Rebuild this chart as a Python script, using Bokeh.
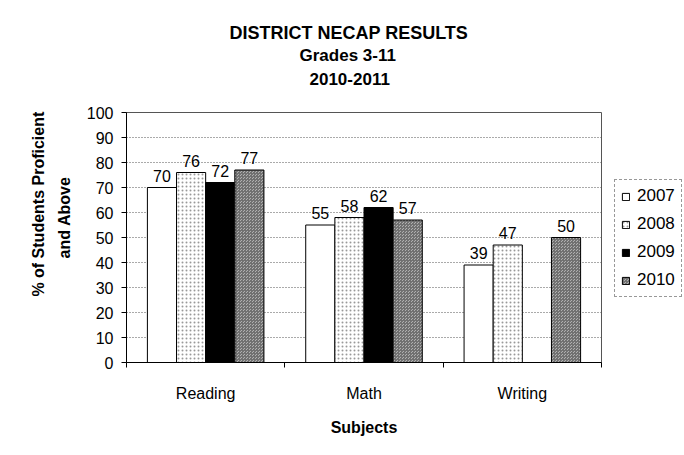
from bokeh.plotting import figure
from bokeh.models import (ColumnDataSource, FactorRange, Legend, LegendItem, Title,
                          LinearAxis, FixedTicker)
from bokeh.transform import dodge
from bokeh.core.properties import value
from bokeh.embed import file_html
from bokeh.resources import INLINE

# ---- data ----
subjects = ["Reading", "Math", "Writing"]
years = ["2007", "2008", "2009", "2010"]
scores_2007 = [70, 55, 39]
scores_2008 = [76, 58, 47]
scores_2009 = [72, 62, None]   # no Writing result for 2009
scores_2010 = [77, 57, 50]
y_ticks = [0, 10, 20, 30, 40, 50, 60, 70, 80, 90, 100]

series = [scores_2007, scores_2008, scores_2009, scores_2010]

FONT = "Liberation Sans"

p = figure(x_range=FactorRange(*subjects), y_range=(0, 100), x_axis_type=None,
           frame_width=475, frame_height=250, output_backend="svg", toolbar_location=None,
           min_border_left=126, min_border_right=67,
           min_border_top=112, min_border_bottom=77)
p.background_fill_color = "white"
p.border_fill_color = "white"
p.outline_line_color = "#555555"
p.outline_line_width = 1

styles = [
    dict(fill_color="white", hatch_pattern=None),
    dict(fill_color="white", hatch_pattern="dot", hatch_color="#999999", hatch_scale=4, hatch_weight=1),
    dict(fill_color="black", hatch_pattern=None),
    dict(fill_color="#b0b0b0", hatch_pattern="criss_cross", hatch_color="#707070", hatch_scale=3, hatch_weight=1),
]
offsets = [-0.276, -0.092, 0.092, 0.276]
bar_w = 0.184

items = []
for yr, vals, st, off in zip(years, series, styles, offsets):
    xs = [s for s, v in zip(subjects, vals) if v is not None]
    ys = [v for v in vals if v is not None]
    src = ColumnDataSource(dict(x=xs, top=ys, lab=[str(v) for v in ys]))
    kw = dict(fill_color=st["fill_color"])
    if st["hatch_pattern"]:
        kw.update(hatch_pattern=st["hatch_pattern"], hatch_color=st["hatch_color"],
                  hatch_scale=st["hatch_scale"], hatch_weight=st["hatch_weight"])
    r = p.vbar(x=dodge("x", off, range=p.x_range), top="top", width=bar_w, source=src,
               line_color="black", line_width=1, **kw)
    items.append(LegendItem(label=yr, renderers=[r]))
    p.text(x=dodge("x", off, range=p.x_range), y="top", text="lab", source=src,
           text_align="center", text_baseline="bottom", y_offset=-6,
           text_font=value(FONT), text_font_size="16px", text_color="black")

legend = Legend(items=items, location=(13, 65), orientation="vertical")
legend.label_text_font = FONT
legend.label_text_font_size = "17px"
legend.label_text_color = "black"
legend.glyph_width = 9
legend.glyph_height = 9
legend.label_height = 20
legend.spacing = 8
legend.padding = 6
legend.margin = 0
legend.label_standoff = 7
legend.border_line_color = "#333333"
legend.border_line_dash = "1 1"
legend.border_line_width = 1
legend.background_fill_color = "white"
p.add_layout(legend, "right")

# grid
p.ygrid.grid_line_color = "#555555"
p.ygrid.grid_line_dash = "1 2"
p.ygrid.grid_line_width = 1
p.ygrid.ticker = y_ticks

# y axis
p.yaxis.ticker = y_ticks
p.yaxis.axis_line_color = "black"
p.yaxis.major_tick_in = 0
p.yaxis.major_tick_out = 5
p.yaxis.minor_tick_line_color = None
p.yaxis.major_label_standoff = 8
p.yaxis.major_label_text_font = FONT
p.yaxis.major_label_text_font_size = "16px"
p.yaxis.major_label_text_color = "black"

# y axis title, two lines (each as its own label-only axis)
def label_axis(text, standoff):
    ax = LinearAxis(axis_label=text, ticker=FixedTicker(ticks=[]),
                    axis_label_standoff=standoff,
                    axis_label_text_font=FONT, axis_label_text_font_size="16px",
                    axis_label_text_font_style="bold", axis_label_text_color="black",
                    axis_line_color=None, major_tick_line_color=None,
                    minor_tick_line_color=None)
    p.add_layout(ax, "left")
    return ax

label_axis("\u00a0" * 9 + "and Above", 11)
label_axis("\u00a0" * 15 + "% of Students Proficient", 6)

# x axis: category names at the centres, small ticks at the category boundaries
n = len(subjects)
centres = [i + 0.5 for i in range(n)]
xax = LinearAxis(ticker=FixedTicker(ticks=centres, minor_ticks=list(range(n + 1))),
                 major_label_overrides={c: s for c, s in zip(centres, subjects)})
xax.axis_line_color = "black"
xax.major_tick_line_color = None
xax.major_tick_in = 0
xax.major_tick_out = 0
xax.minor_tick_line_color = "black"
xax.minor_tick_in = 0
xax.minor_tick_out = 5
xax.major_label_standoff = 17
xax.major_label_text_font = FONT
xax.major_label_text_font_size = "16px"
xax.major_label_text_color = "black"
xax.axis_label = "Subjects"
xax.axis_label_text_font = FONT
xax.axis_label_text_font_size = "16px"
xax.axis_label_text_font_style = "bold"
xax.axis_label_text_color = "black"
xax.axis_label_standoff = 14
p.add_layout(xax, "below")

# titles
def style_title(t, size, off, standoff):
    t.text_font = FONT
    t.text_font_size = size
    t.text_font_style = "bold"
    t.text_color = "black"
    t.align = "left"
    t.offset = off
    t.standoff = standoff

p.title.text = "DISTRICT NECAP RESULTS"
style_title(p.title, "18px", 103, 0)
spacer = Title(text=" ")
style_title(spacer, "19px", 0, 0)
p.add_layout(spacer, "above")
t3 = Title(text="2010-2011")
style_title(t3, "17px", 183, 10)
p.add_layout(t3, "above")
t2 = Title(text="Grades 3-11")
style_title(t2, "17px", 173, 2)
p.add_layout(t2, "above")

open("out.html", "w").write(file_html(p, INLINE))
